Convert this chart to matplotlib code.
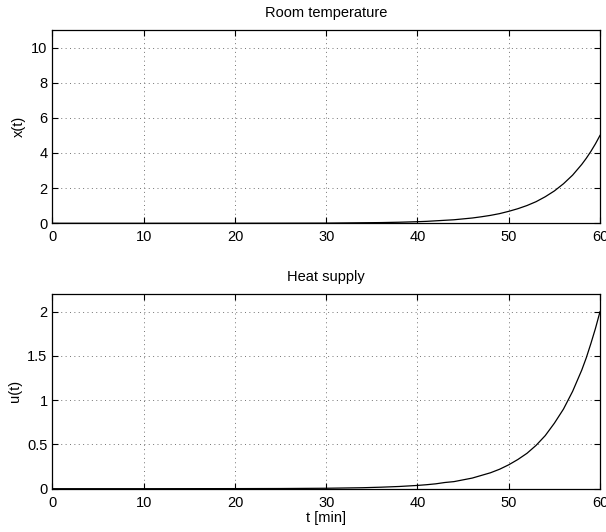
# Room temperature / heat supply, two stacked panels in MATLAB look
import matplotlib
matplotlib.use("Agg")
from matplotlib import pyplot as plt

plt.rcParams['font.family'] = ['Liberation Sans', 'DejaVu Sans']
plt.rcParams['font.size'] = 10.5

# values
t_min = [0, 10, 20, 25, 30, 32, 34, 36, 38, 40, 41, 42, 43, 44, 45, 46, 47, 48,
         49, 50, 51, 52, 53, 54, 55, 56, 57, 58, 58.5, 59, 59.5, 60]
x_room = [0.0, 0.0, 0.002, 0.005, 0.01, 0.02, 0.03, 0.04, 0.06, 0.09, 0.11,
          0.14, 0.17, 0.20, 0.25, 0.30, 0.37, 0.45, 0.55, 0.68, 0.83, 1.01,
          1.23, 1.51, 1.84, 2.25, 2.74, 3.35, 3.70, 4.09, 4.52, 5.00]
u_heat = [0.0, 0.0, 0.001, 0.002, 0.005, 0.008, 0.011, 0.017, 0.025, 0.037,
          0.045, 0.055, 0.07, 0.08, 0.10, 0.12, 0.15, 0.18, 0.22, 0.27, 0.33,
          0.40, 0.49, 0.60, 0.74, 0.90, 1.10, 1.34, 1.48, 1.64, 1.81, 2.00]

x_ticks = [0, 10, 20, 30, 40, 50, 60]
x_room_ticks = [0, 2, 4, 6, 8, 10]
u_heat_ticks = [0, 0.5, 1, 1.5, 2]

fig = plt.figure(figsize=(6.06, 5.32), dpi=100)
ax1 = fig.add_axes([0.0866, 0.5803, 0.9035, 0.3634])
ax2 = fig.add_axes([0.0866, 0.0814, 0.9035, 0.3660])


def matlab_style(ax):
    ax.grid(True, color='0.45', linestyle=(0, (1, 3.5)), linewidth=0.7)
    ax.tick_params(direction='in', top=True, right=True, length=4,
                   width=0.8, pad=3.5, labelsize=10.5)
    ax.tick_params(axis='x', pad=5)
    for s in ax.spines.values():
        s.set_linewidth(0.9)
    ax.set_xlim(0, 60)
    ax.set_xticks(x_ticks)


ax1.plot(t_min, x_room, color='black', linewidth=0.9)
matlab_style(ax1)
ax1.set_ylim(0, 11)
ax1.set_yticks(x_room_ticks)
ax1.set_ylabel("x(t)", labelpad=4)
ax1.set_title("Room temperature", fontsize=10.5, pad=9)

ax2.plot(t_min, u_heat, color='black', linewidth=0.9)
matlab_style(ax2)
ax2.set_ylim(0, 2.2)
ax2.set_yticks(u_heat_ticks)
ax2.set_yticklabels(["0", "0.5", "1", "1.5", "2"])
ax2.set_ylabel("u(t)", labelpad=4)
ax2.set_xlabel("t [min]", labelpad=1)
ax2.set_title("Heat supply", fontsize=10.5, pad=9)

fig.savefig("out.png", dpi=100)
